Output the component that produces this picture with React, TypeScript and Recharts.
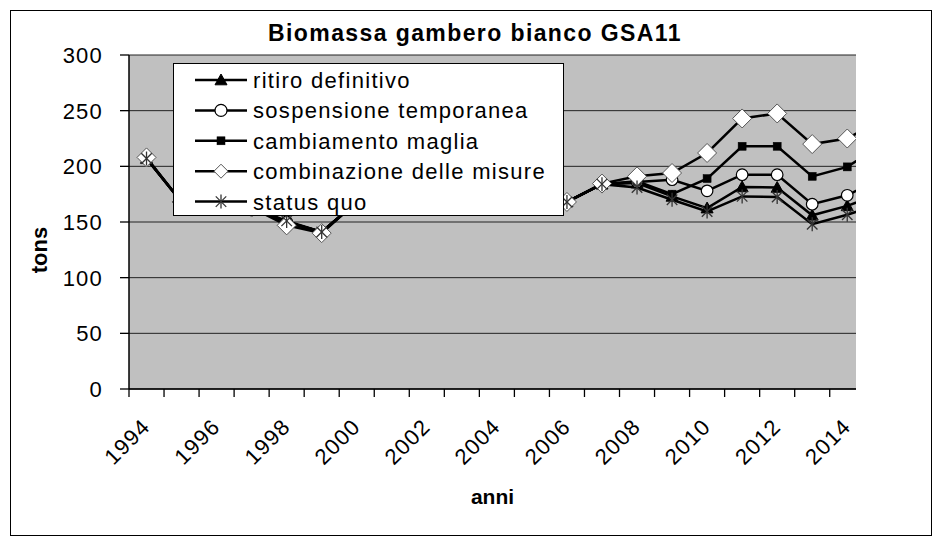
import React from 'react';
import { LineChart, Line, XAxis, YAxis, CartesianGrid, Legend, Label } from 'recharts';

const years = [1994, 1995, 1996, 1997, 1998, 1999, 2000, 2001, 2002, 2003, 2004, 2005, 2006, 2007, 2008, 2009, 2010, 2011, 2012, 2013, 2014, 2015];
const ritiroDefinitivo = [207, 168, 168, 163, 150, 141, 168, 172, 175, 172, 170, 166, 168, 184, 185, 173, 162.5, 181.5, 181, 156, 164.5, 176];
const sospensioneTemporanea = [207, 168, 168, 163, 150, 141, 168, 172, 175, 172, 170, 166, 168, 184, 186, 188, 178, 192.5, 192.5, 166, 174, 190];
const cambiamentoMaglia = [207, 168, 168, 163, 150, 141, 168, 172, 175, 172, 170, 166, 168, 184, 186.5, 175, 189, 218, 218, 191, 199.5, 220];
const combinazioneMisure = [208, 168, 168, 163, 147, 140, 168, 172, 175, 172, 170, 166, 168, 184.5, 191, 194, 212, 243, 247.5, 220, 225, 242];
const statusQuo = [207, 168, 168, 163, 151, 141, 168, 172, 175, 172, 170, 166, 168, 184, 181, 170, 159.5, 173, 172.5, 148, 156.5, 167];

const seriesKeys = ['ritiro', 'sospensione', 'maglia', 'combinazione', 'status'];
const seriesNames = ['ritiro definitivo', 'sospensione temporanea', 'cambiamento maglia', 'combinazione delle misure', 'status quo'];
const seriesMarkers = ['triangle', 'circle', 'square', 'diamond', 'star'];

const yTicks = [0, 50, 100, 150, 200, 250, 300];
const xLabelYears = [1994, 1996, 1998, 2000, 2002, 2004, 2006, 2008, 2010, 2012, 2014];
const xBoundaryTicks = [1993.5, 1994.5, 1995.5, 1996.5, 1997.5, 1998.5, 1999.5, 2000.5, 2001.5, 2002.5, 2003.5, 2004.5, 2005.5, 2006.5, 2007.5, 2008.5, 2009.5, 2010.5, 2011.5, 2012.5, 2013.5];
const xDomain = [1993.5, 2014.25];

const data = years.map((year, i) => ({
  year,
  ritiro: ritiroDefinitivo[i],
  sospensione: sospensioneTemporanea[i],
  maglia: cambiamentoMaglia[i],
  combinazione: combinazioneMisure[i],
  status: statusQuo[i],
}));

const allXTicks = [...xBoundaryTicks, ...xLabelYears].sort((a, b) => a - b);

const FONT = '"Liberation Sans", Arial, sans-serif';

function Marker({ kind, cx, cy, legend = false }: { kind: string; cx: number; cy: number; legend?: boolean }) {
  if (cx == null || cy == null || isNaN(cx) || isNaN(cy)) return <g />;
  switch (kind) {
    case 'triangle': {
      const s = 6;
      return <path d={`M${cx},${cy - s} L${cx + s},${cy + s * 0.8} L${cx - s},${cy + s * 0.8} Z`} fill="#000" stroke="#000" strokeWidth={1} />;
    }
    case 'circle':
      return <circle cx={cx} cy={cy} r={legend ? 6 : 5.8} fill="#fff" stroke="#000" strokeWidth={1.2} />;
    case 'square': {
      const s = 4;
      return <rect x={cx - s} y={cy - s} width={2 * s} height={2 * s} fill="#000" stroke="#000" strokeWidth={0.5} />;
    }
    case 'diamond': {
      const s = legend ? 7 : 9.5;
      return <path d={`M${cx},${cy - s} L${cx + s},${cy} L${cx},${cy + s} L${cx - s},${cy} Z`} fill="#fff" stroke="#555" strokeWidth={1} />;
    }
    case 'star': {
      const s = 7;
      const d = s * 0.75;
      return (
        <g stroke="#333" strokeWidth={1.3}>
          <line x1={cx} y1={cy - s} x2={cx} y2={cy + s} />
          <line x1={cx - d} y1={cy - d} x2={cx + d} y2={cy + d} />
          <line x1={cx - d} y1={cy + d} x2={cx + d} y2={cy - d} />
        </g>
      );
    }
    default:
      return <g />;
  }
}

const makeDot = (kind: string) => (props: any) => (
  <g key={`${kind}-${props.index}`}>
    <Marker kind={kind} cx={props.cx} cy={props.cy} />
  </g>
);

const XTick = (props: any) => {
  const { x, y, payload } = props;
  const v = payload.value;
  if (v % 1 !== 0) {
    return <line x1={x} y1={y} x2={x} y2={y + 8} stroke="#000" strokeWidth={1.3} />;
  }
  if (xLabelYears.includes(v)) {
    const ax = x + 5;
    const ay = y + 39;
    return (
      <text x={ax} y={ay} textAnchor="end" transform={`rotate(-45 ${ax} ${ay})`} fontSize={22} fontFamily={FONT} fill="#000" style={{ letterSpacing: '1.2px' }}>
        {v}
      </text>
    );
  }
  return <g />;
};

const YTick = (props: any) => {
  const { x, y, payload } = props;
  return (
    <text x={x} y={y + 8} textAnchor="end" fontSize={22} fontFamily={FONT} fill="#000" style={{ letterSpacing: '1.2px' }}>
      {payload.value}
    </text>
  );
};

const renderLegend = () => (
  <div style={{ width: 391, height: 153, border: '1px solid #000', background: '#fff', boxSizing: 'border-box' }}>
    <svg width={389} height={151} style={{ display: 'block' }}>
      {seriesNames.map((name, i) => {
        const cy = 16 + i * 30.4;
        return (
          <g key={name}>
            <line x1={21} y1={cy} x2={73} y2={cy} stroke="#000" strokeWidth={2.5} />
            <Marker kind={seriesMarkers[i]} cx={47} cy={cy} legend />
            <text x={79} y={cy + 8} fontSize={22} fontFamily={FONT} fill="#000" style={{ letterSpacing: '1.3px' }}>
              {name}
            </text>
          </g>
        );
      })}
    </svg>
  </div>
);

export default function App() {
  return (
    <div style={{ position: 'relative', width: 920, height: 524, border: '1px solid #000', marginLeft: 2, marginTop: 2, background: '#fff' }}>
      <div style={{ position: 'absolute', left: 4, top: 10.5, width: 920, textAlign: 'center', fontFamily: FONT, fontWeight: 'bold', fontSize: 23, lineHeight: '23px', letterSpacing: '1.4px', color: '#000', zIndex: 2 }}>
        Biomassa gambero bianco GSA11
      </div>
      <LineChart width={920} height={524} data={data} margin={{ top: 44, right: 75, left: 0, bottom: 46 }}>
        <CartesianGrid vertical={false} fill="#c0c0c0" fillOpacity={1} stroke="#222" strokeWidth={1} />
        <XAxis
          dataKey="year"
          type="number"
          domain={xDomain}
          allowDataOverflow
          ticks={allXTicks}
          interval={0}
          tickLine={false}
          tickSize={0}
          tickMargin={0}
          tick={<XTick />}
          height={100}
          axisLine={{ stroke: '#000', strokeWidth: 1.5 }}
        >
          <Label value="anni" position="center" dy={58} style={{ fontFamily: FONT, fontWeight: 'bold', fontSize: 21, fill: '#000' }} />
        </XAxis>
        <YAxis
          type="number"
          domain={[0, 300]}
          ticks={yTicks}
          interval={0}
          width={118}
          tickSize={9}
          tickMargin={17}
          tick={<YTick />}
          tickLine={{ stroke: '#000', strokeWidth: 1.3 }}
          axisLine={{ stroke: '#000', strokeWidth: 1.5 }}
        >
          <Label value="tons" position="center" angle={-90} dx={-31} dy={28} style={{ fontFamily: FONT, fontWeight: 'bold', fontSize: 22, fill: '#000' }} />
        </YAxis>
        <Legend layout="vertical" align="center" verticalAlign="middle" content={renderLegend} wrapperStyle={{ left: 162, top: 52, width: 391, height: 153 }} />
        {seriesKeys.map((k, i) => (
          <Line
            key={k}
            dataKey={k}
            name={seriesNames[i]}
            stroke="#000"
            strokeWidth={2.5}
            dot={makeDot(seriesMarkers[i])}
            activeDot={false}
            isAnimationActive={false}
            legendType="none"
          />
        ))}
      </LineChart>
    </div>
  );
}
